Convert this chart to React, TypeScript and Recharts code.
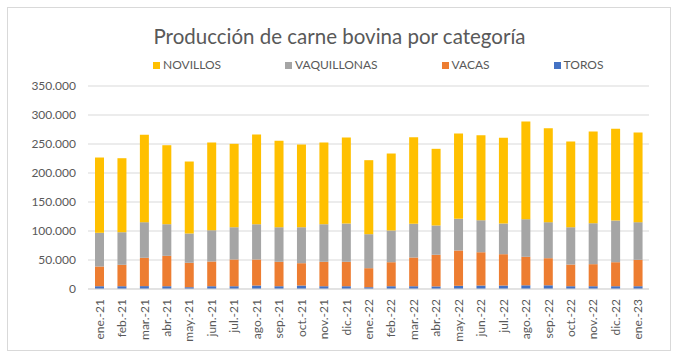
import React from 'react';
import { BarChart, Bar, XAxis, YAxis, CartesianGrid } from 'recharts';

const meses = [
  'ene.-21', 'feb.-21', 'mar.-21', 'abr.-21', 'may.-21', 'jun.-21', 'jul.-21', 'ago.-21', 'sep.-21',
  'oct.-21', 'nov.-21', 'dic.-21', 'ene.-22', 'feb.-22', 'mar.-22', 'abr.-22', 'may.-22', 'jun.-22',
  'jul.-22', 'ago.-22', 'sep.-22', 'oct.-22', 'nov.-22', 'dic.-22', 'ene.-23',
];

const toros = [
  4800, 4800, 5000, 4800, 3100, 4800, 4800, 6000, 4800, 6000, 4800, 4800, 3100,
  4800, 4800, 4500, 5500, 6000, 6000, 6400, 6400, 4800, 4800, 4800, 4800,
];
const vacas = [
  34000, 36900, 48800, 52400, 42100, 42600, 46100, 44900, 42100, 38500, 42100, 42100, 32800,
  41400, 49500, 54500, 60900, 57400, 54000, 49100, 46700, 37400, 38000, 41400, 45500,
];
const vaquillonas = [
  58100, 56200, 61400, 54500, 50500, 54000, 55600, 60800, 59600, 62000, 64800, 66000, 58600,
  54700, 58100, 50500, 54600, 55200, 52900, 64900, 62100, 64300, 70600, 71900, 64900,
];
const novillos = [
  129800, 127600, 150600, 136200, 124100, 151200, 143800, 154700, 149000, 142600, 140900, 148300, 127600,
  132700, 149300, 132200, 147100, 146600, 147800, 168400, 162000, 147800, 158100, 158100, 154600,
];

const yTicks = [0, 50000, 100000, 150000, 200000, 250000, 300000, 350000];

const series = [
  { key: 'NOVILLOS', color: '#FFC000' },
  { key: 'VAQUILLONAS', color: '#A5A5A5' },
  { key: 'VACAS', color: '#ED7D31' },
  { key: 'TOROS', color: '#4472C4' },
];

const data = meses.map((mes, i) => ({
  mes,
  TOROS: toros[i],
  VACAS: vacas[i],
  VAQUILLONAS: vaquillonas[i],
  NOVILLOS: novillos[i],
}));

const font = 'Lato, "Noto Sans", sans-serif';
const textColor = '#595959';

const formatMiles = (v: number) => String(v).replace(/\B(?=(\d{3})+(?!\d))/g, '.');

function MesTick({ x, y, payload }: any) {
  return (
    <text
      x={x}
      y={y + 8}
      transform={`rotate(-90, ${x}, ${y + 8})`}
      textAnchor="end"
      dominantBaseline="central"
      fontSize={12}
      fill={textColor}
      fontFamily={font}
    >
      {payload.value}
    </text>
  );
}

export default function App() {
  // stacked bottom to top: toros, vacas, vaquillonas, novillos
  const stack = [...series].reverse();
  return (
    <div style={{ position: 'absolute', left: 0, top: 0, width: 683, height: 362, background: '#fff', fontFamily: font }}>
      <div
        style={{
          position: 'absolute', left: 7, top: 7, width: 664, height: 344,
          border: '1px solid #D9D9D9', boxSizing: 'border-box',
        }}
      />
      <div
        style={{
          position: 'absolute', left: 0, top: 23, width: 679, textAlign: 'center',
          fontSize: 20.5, color: textColor, lineHeight: '26px',
        }}
      >
        Producción de carne bovina por categoría
      </div>
      <div style={{ position: 'absolute', left: 153, top: 57, display: 'flex', gap: 64 }}>
        {series.map((s) => (
          <div key={s.key} style={{ display: 'flex', alignItems: 'center', fontSize: 12, color: textColor, lineHeight: '16px' }}>
            <span style={{ width: 7, height: 7, background: s.color, marginRight: 3, display: 'inline-block' }} />
            {s.key}
          </div>
        ))}
      </div>
      <div style={{ position: 'absolute', left: 0, top: 0 }}>
        <BarChart width={683} height={362} data={data} margin={{ top: 86, right: 34, left: 0, bottom: 0 }}>
          <CartesianGrid vertical={false} stroke="#D9D9D9" />
          <XAxis
            dataKey="mes"
            height={73}
            interval={0}
            tickLine={false}
            tickSize={0}
            axisLine={{ stroke: '#D9D9D9' }}
            tick={<MesTick />}
          />
          <YAxis
            width={88}
            domain={[0, 350000]}
            ticks={yTicks}
            tickFormatter={formatMiles}
            axisLine={false}
            tickLine={false}
            tickSize={0}
            tickMargin={12}
            tick={{ fontSize: 12, fill: textColor, fontFamily: font }}
          />
          {stack.map((s) => (
            <Bar key={s.key} dataKey={s.key} stackId="a" fill={s.color} barSize={9} isAnimationActive={false} />
          ))}
        </BarChart>
      </div>
    </div>
  );
}
